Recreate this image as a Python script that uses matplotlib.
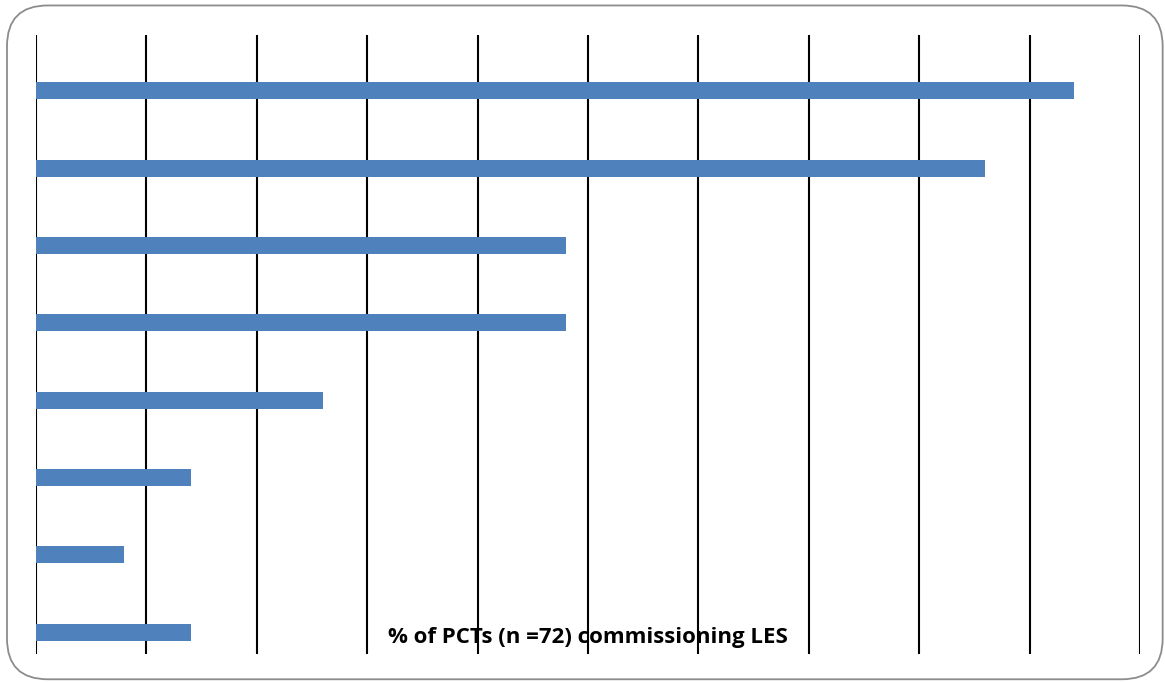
import matplotlib.pyplot as plt
from matplotlib.patches import FancyBboxPatch

# share of PCTs commissioning each service, top row first
categories = ["A", "B", "C", "D", "E", "F", "G", "H"]
percent = [94, 86, 48, 48, 26, 14, 8, 14]
x_ticks = list(range(0, 101, 10))
axis_title = "% of PCTs (n =72) commissioning LES"

fig = plt.figure(figsize=(11.65, 6.82), dpi=100)

# rounded chart-area frame, kept behind the axes
frame = FancyBboxPatch((0.006, 0.004), 0.992, 0.988,
                       boxstyle="round,pad=0,rounding_size=0.035",
                       transform=fig.transFigure, facecolor="white",
                       edgecolor="#8c8c8c", linewidth=1.3,
                       mutation_aspect=1165 / 682, zorder=-1)
fig.patches.append(frame)

ax = fig.add_axes([0.0309, 0.0411, 0.9476, 0.9076])
ax.patch.set_alpha(0)

y = list(range(len(categories)))[::-1]
ax.barh(y, percent, height=0.22, color="#4F81BD", zorder=3)

for t in x_ticks:
    ax.axvline(t, color="black", linewidth=1.5, zorder=2)

ax.set_xlim(0, 100)
ax.set_ylim(-0.28, 7.72)
ax.set_xticks([])
ax.set_yticks([])
for s in ax.spines.values():
    s.set_visible(False)

ax.text(50, -0.07, axis_title, ha="center", va="center",
        fontsize=16, fontweight="bold", family="Open Sans", zorder=4)

fig.savefig("out.png", dpi=100)
